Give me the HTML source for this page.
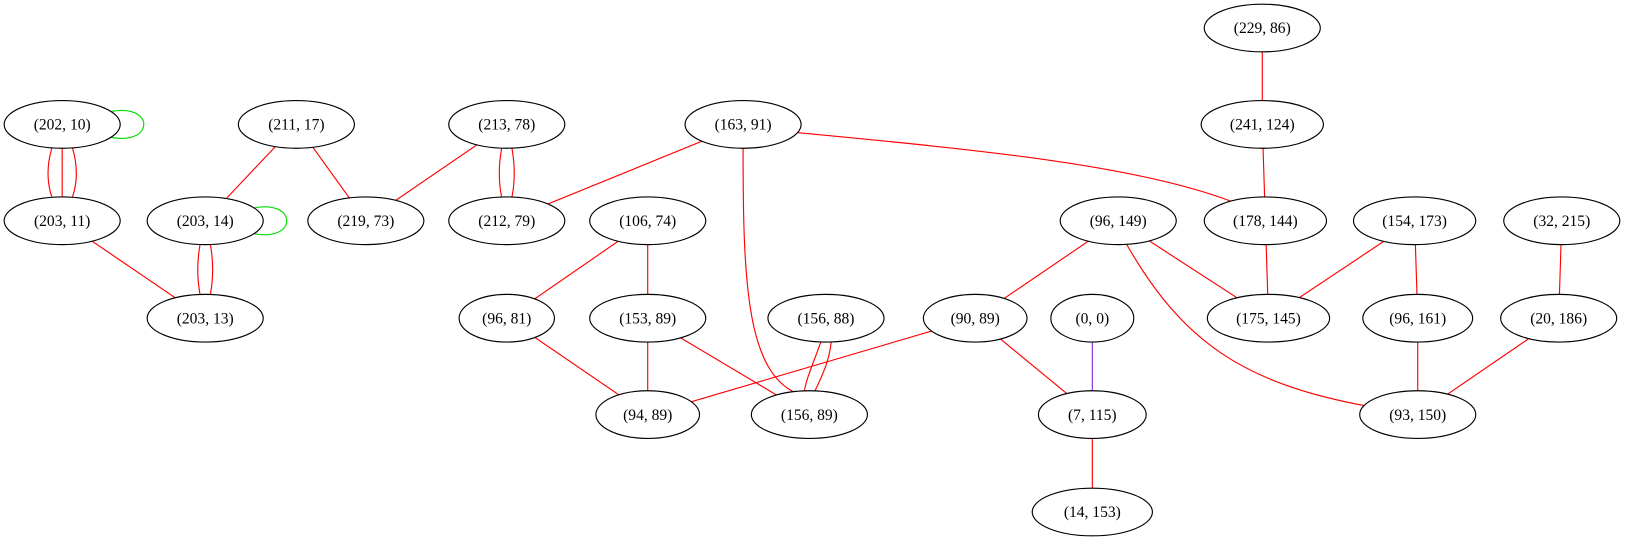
<!DOCTYPE html>
<html><head><style>html,body{margin:0;padding:0;background:#fff}svg{display:block}</style></head><body>
<svg width="1625" height="539" viewBox="0 0 1568 520" xmlns="http://www.w3.org/2000/svg" font-family="Liberation Serif, serif" font-size="15">
<g stroke="red" stroke-width="1.1" fill="none">
<line x1="1218" y1="27" x2="1218" y2="120"/>
<line x1="1218" y1="120" x2="1221" y2="213"/>
<line x1="1221" y1="213" x2="1224" y2="307"/>
<line x1="1365" y1="213" x2="1224" y2="307"/>
<line x1="1365" y1="213" x2="1368" y2="307"/>
<line x1="1368" y1="307" x2="1368" y2="400"/>
<line x1="1507" y1="213" x2="1504" y2="307"/>
<line x1="1504" y1="307" x2="1368" y2="400"/>
<line x1="1079" y1="213" x2="1224" y2="307"/>
<line x1="1079" y1="213" x2="941" y2="307"/>
<path d="M1085,232 C1140,330 1200,370 1320,392"/>
<line x1="941" y1="307" x2="1054" y2="400"/>
<line x1="941" y1="307" x2="625" y2="400"/>
<line x1="1054" y1="400" x2="1054" y2="494"/>
<path d="M770,128 C950,145 1100,160 1190,195"/>
<line x1="717" y1="120" x2="489" y2="213"/>
<path d="M717,143 C717,270 720,360 770,380"/>
<path d="M484,143 C481,160 481,175 484,190"/>
<path d="M494,143 C497,160 497,175 494,190"/>
<line x1="489" y1="120" x2="353" y2="213"/>
<line x1="286" y1="120" x2="353" y2="213"/>
<line x1="286" y1="120" x2="198" y2="213"/>
<path d="M193,236 C190,253 190,268 193,284"/>
<path d="M203,236 C206,253 206,268 203,284"/>
<path d="M50,143 C45,160 45,175 50,190"/>
<line x1="60" y1="143" x2="60" y2="190"/>
<path d="M70,143 C75,160 75,175 70,190"/>
<line x1="60" y1="213" x2="198" y2="307"/>
<line x1="625" y1="213" x2="489" y2="307"/>
<line x1="625" y1="213" x2="625" y2="307"/>
<line x1="489" y1="307" x2="625" y2="400"/>
<line x1="625" y1="307" x2="625" y2="400"/>
<line x1="625" y1="307" x2="781" y2="400"/>
<path d="M792,330 C785,350 778,365 776,378"/>
<path d="M802,330 C800,350 792,365 786,378"/>
</g>
<line x1="1054" y1="307" x2="1054" y2="400" stroke="#8a2be2" stroke-width="1.1"/>
<g stroke="#00dd00" stroke-width="1.1" fill="none">
<path d="M105,108 C150,98 150,142 105,132"/>
<path d="M243,201 C288,191 288,235 243,225"/>
</g>
<g stroke="#000" stroke-width="1.1" fill="#fff">
<ellipse cx="1218" cy="27" rx="56" ry="23"/>
<ellipse cx="1218" cy="120" rx="59" ry="23"/>
<ellipse cx="1221" cy="213" rx="59" ry="23"/>
<ellipse cx="1224" cy="307" rx="59" ry="23"/>
<ellipse cx="1365" cy="213" rx="59" ry="23"/>
<ellipse cx="1368" cy="307" rx="53" ry="23"/>
<ellipse cx="1507" cy="213" rx="56" ry="23"/>
<ellipse cx="1504" cy="307" rx="56" ry="23"/>
<ellipse cx="1368" cy="400" rx="56" ry="23"/>
<ellipse cx="1079" cy="213" rx="56" ry="23"/>
<ellipse cx="941" cy="307" rx="50" ry="23"/>
<ellipse cx="1054" cy="307" rx="40" ry="23"/>
<ellipse cx="1054" cy="400" rx="52" ry="23"/>
<ellipse cx="1054" cy="494" rx="58" ry="23"/>
<ellipse cx="717" cy="120" rx="56" ry="23"/>
<ellipse cx="489" cy="213" rx="56" ry="23"/>
<ellipse cx="489" cy="120" rx="56" ry="23"/>
<ellipse cx="353" cy="213" rx="56" ry="23"/>
<ellipse cx="286" cy="120" rx="56" ry="23"/>
<ellipse cx="198" cy="213" rx="56" ry="23"/>
<ellipse cx="198" cy="307" rx="56" ry="23"/>
<ellipse cx="60" cy="120" rx="56" ry="23"/>
<ellipse cx="60" cy="213" rx="56" ry="23"/>
<ellipse cx="625" cy="213" rx="56" ry="23"/>
<ellipse cx="489" cy="307" rx="46" ry="23"/>
<ellipse cx="625" cy="307" rx="56" ry="23"/>
<ellipse cx="797" cy="307" rx="56" ry="23"/>
<ellipse cx="625" cy="400" rx="50" ry="23"/>
<ellipse cx="781" cy="400" rx="56" ry="23"/>
</g>
<g text-anchor="middle" fill="#000">
<text x="1218" y="32">(229, 86)</text>
<text x="1218" y="125">(241, 124)</text>
<text x="1221" y="218">(178, 144)</text>
<text x="1224" y="312">(175, 145)</text>
<text x="1365" y="218">(154, 173)</text>
<text x="1368" y="312">(96, 161)</text>
<text x="1507" y="218">(32, 215)</text>
<text x="1504" y="312">(20, 186)</text>
<text x="1368" y="405">(93, 150)</text>
<text x="1079" y="218">(96, 149)</text>
<text x="941" y="312">(90, 89)</text>
<text x="1054" y="312">(0, 0)</text>
<text x="1054" y="405">(7, 115)</text>
<text x="1054" y="499">(14, 153)</text>
<text x="717" y="125">(163, 91)</text>
<text x="489" y="218">(212, 79)</text>
<text x="489" y="125">(213, 78)</text>
<text x="353" y="218">(219, 73)</text>
<text x="286" y="125">(211, 17)</text>
<text x="198" y="218">(203, 14)</text>
<text x="198" y="312">(203, 13)</text>
<text x="60" y="125">(202, 10)</text>
<text x="60" y="218">(203, 11)</text>
<text x="625" y="218">(106, 74)</text>
<text x="489" y="312">(96, 81)</text>
<text x="625" y="312">(153, 89)</text>
<text x="797" y="312">(156, 88)</text>
<text x="625" y="405">(94, 89)</text>
<text x="781" y="405">(156, 89)</text>
</g>
</svg>
</body></html>
